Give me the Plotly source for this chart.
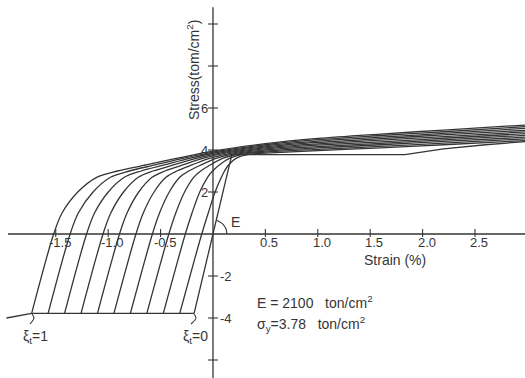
import numpy as np
import plotly.graph_objects as go

# ---------------- data ----------------
# common stress levels of the rising branches
branch_stress = [-3.78, 0.0, 1.0, 2.0, 2.7, 3.0, 3.3, 3.6]
band_strain = [0.5, 1.0, 1.6, 2.2, 2.98]

# xi_t = 0.1 ... 1.0 : strain at each branch stress, merge point, then hardening band
xi01_strain = [-0.317, -0.107, -0.045, 0.020, 0.080, 0.110, 0.150, 0.220, 0.350]
xi01_merge = 3.80
xi01_band = [3.85, 3.97, 4.10, 4.25, 4.45]

xi02_strain = [-0.474, -0.264, -0.200, -0.126, -0.052, -0.004, 0.064, 0.157, 0.311]
xi02_merge = 3.817
xi02_band = [3.90, 4.03, 4.17, 4.33, 4.53]

xi03_strain = [-0.631, -0.421, -0.355, -0.271, -0.184, -0.117, -0.023, 0.093, 0.272]
xi03_merge = 3.833
xi03_band = [3.95, 4.10, 4.25, 4.41, 4.61]

xi04_strain = [-0.788, -0.578, -0.510, -0.417, -0.317, -0.231, -0.109, 0.030, 0.233]
xi04_merge = 3.85
xi04_band = [4.00, 4.16, 4.32, 4.48, 4.70]

xi05_strain = [-0.945, -0.735, -0.665, -0.562, -0.449, -0.345, -0.195, -0.033, 0.194]
xi05_merge = 3.867
xi05_band = [4.05, 4.23, 4.39, 4.56, 4.78]

xi06_strain = [-1.102, -0.892, -0.820, -0.708, -0.581, -0.458, -0.282, -0.097, 0.156]
xi06_merge = 3.883
xi06_band = [4.10, 4.29, 4.47, 4.64, 4.86]

xi07_strain = [-1.259, -1.049, -0.975, -0.853, -0.713, -0.572, -0.368, -0.160, 0.117]
xi07_merge = 3.90
xi07_band = [4.15, 4.36, 4.54, 4.72, 4.94]

xi08_strain = [-1.416, -1.206, -1.130, -0.999, -0.846, -0.686, -0.454, -0.223, 0.078]
xi08_merge = 3.917
xi08_band = [4.20, 4.42, 4.61, 4.79, 5.03]

xi09_strain = [-1.573, -1.363, -1.285, -1.144, -0.978, -0.799, -0.541, -0.287, 0.039]
xi09_merge = 3.933
xi09_band = [4.25, 4.49, 4.69, 4.87, 5.11]

xi10_strain = [-1.730, -1.520, -1.440, -1.290, -1.110, -0.913, -0.627, -0.350, 0.000]
xi10_merge = 3.95
xi10_band = [4.30, 4.55, 4.76, 4.95, 5.19]

# xi_t = 0 : elastic line, yield plateau, hardening
xi0_elastic_strain = [-0.18, 0.0, 0.18]
xi0_elastic_stress = [-3.78, 0.0, 3.78]
xi0_plateau_strain = [0.18, 1.83, 2.2, 2.6, 2.98]
xi0_plateau_stress = [3.78, 3.78, 4.05, 4.25, 4.40]

# compressive plateau and its extension on the left
comp_strain = [-1.73, -0.18]
comp_stress = [-3.78, -3.78]
ext_strain = [-1.97, -1.73]
ext_stress = [-4.0, -3.78]

# axes / ticks
x_tick_vals = [-1.5, -1.0, -0.5, 0.5, 1.0, 1.5, 2.0, 2.5]
x_tick_text = ["-1.5", "-1.0", "-0.5", "0.5", "1.0", "1.5", "2.0", "2.5"]
y_tick_vals = [-6, -4, -2, 2, 4, 6, 8, 10]
y_tick_text = ["", "-4", "-2", "2", "4", "6", "", ""]

# ---------------- figure ----------------
W, H = 525, 378
XR = [-2.032, 2.977]
YR = [-6.857, 11.143]
PXX = W / (XR[1] - XR[0])   # px per strain unit
PXY = H / (YR[1] - YR[0])   # px per stress unit

LC = "#353535"
LW = 1.3
FONT = "Liberation Sans"

fig = go.Figure()

def add_line(x, y, shape="linear", width=LW):
    fig.add_trace(go.Scatter(x=x, y=y, mode="lines",
                             line=dict(color=LC, width=width, shape=shape, smoothing=0.9),
                             hoverinfo="skip", showlegend=False))

curves = [
    (xi01_strain, xi01_merge, xi01_band),
    (xi02_strain, xi02_merge, xi02_band),
    (xi03_strain, xi03_merge, xi03_band),
    (xi04_strain, xi04_merge, xi04_band),
    (xi05_strain, xi05_merge, xi05_band),
    (xi06_strain, xi06_merge, xi06_band),
    (xi07_strain, xi07_merge, xi07_band),
    (xi08_strain, xi08_merge, xi08_band),
    (xi09_strain, xi09_merge, xi09_band),
    (xi10_strain, xi10_merge, xi10_band),
]
for st, mg, bd in curves:
    xs = list(st) + list(band_strain)
    ys = list(branch_stress) + [mg] + list(bd)
    add_line(xs, ys, shape="spline")

add_line(xi0_elastic_strain, xi0_elastic_stress)
add_line(xi0_plateau_strain, xi0_plateau_stress)
add_line(comp_strain, comp_stress)
add_line(ext_strain, ext_stress)

# axes lines
add_line([-1.955, XR[1]], [0, 0], width=1.3)
add_line([0, 0], [10.8, YR[0]], width=1.3)

# tick marks
for v in x_tick_vals:
    fig.add_shape(type="line", x0=v, x1=v, y0=-3 / PXY, y1=5 / PXY,
                  line=dict(color=LC, width=1.1))
for v in y_tick_vals:
    fig.add_shape(type="line", x0=-5 / PXX, x1=5 / PXX, y0=v, y1=v,
                  line=dict(color=LC, width=1.1))

ann = []
for v, t in zip(x_tick_vals, x_tick_text):
    ann.append(dict(x=v, y=0, text=t, showarrow=False, xanchor="center", yanchor="top",
                    xshift=4, yshift=1, font=dict(family=FONT, size=13, color=LC)))
for v, t in zip(y_tick_vals, y_tick_text):
    if not t:
        continue
    if v > 0:
        ann.append(dict(x=0, y=v, text=t, showarrow=False, xanchor="right", yanchor="middle",
                        xshift=-3, font=dict(family=FONT, size=13, color=LC)))
    else:
        ann.append(dict(x=0, y=v, text=t, showarrow=False, xanchor="left", yanchor="middle",
                        xshift=5, font=dict(family=FONT, size=13, color=LC)))

def dat(px, py):
    # convert picture pixel position to data coords
    x = XR[0] + px / PXX
    y = YR[1] - py / PXY
    return x, y

# E angle arc at origin
ang = np.linspace(0, np.deg2rad(76), 20)
r = 14
add_line(list(r * np.cos(ang) / PXX), list(r * np.sin(ang) / PXY), width=1.1)

# leader ticks for xi labels
for (p0, p1, p2) in [((32, 314), (34, 318), (30, 324)), ((194, 314), (196, 318), (191, 324))]:
    xs, ys = zip(*[dat(*p) for p in (p0, p1, p2)])
    add_line(list(xs), list(ys), shape="spline", width=1.1)

def text(px, py, t, size=13, xanchor="center", angle=0):
    x, y = dat(px, py)
    ann.append(dict(x=x, y=y, text=t, showarrow=False, xanchor=xanchor, yanchor="middle",
                    textangle=angle, font=dict(family=FONT, size=size, color=LC)))

text(35, 337, "ξ<sub>t</sub>=1", 14)
text(195, 337, "ξ<sub>t</sub>=0", 14)
text(235, 222, "E", 14)
text(395, 260, "Strain (%)", 14)
text(255, 302, "E = 2100   ton/cm<sup>2</sup>", 14, xanchor="left")
text(255, 324, "σ<sub>y</sub>=3.78   ton/cm<sup>2</sup>", 14, xanchor="left")
text(193, 70, "Stress(tom/cm<sup>2</sup>)", 14, angle=-90)

fig.update_layout(
    width=W, height=H,
    margin=dict(l=0, r=0, t=0, b=0),
    paper_bgcolor="white", plot_bgcolor="white",
    xaxis=dict(range=XR, visible=False, fixedrange=True),
    yaxis=dict(range=YR, visible=False, fixedrange=True),
    annotations=ann,
    showlegend=False,
)

fig.write_html("out.html", config={"displayModeBar": False},
               post_script="document.body.style.margin='0';document.body.style.overflow='hidden';")
